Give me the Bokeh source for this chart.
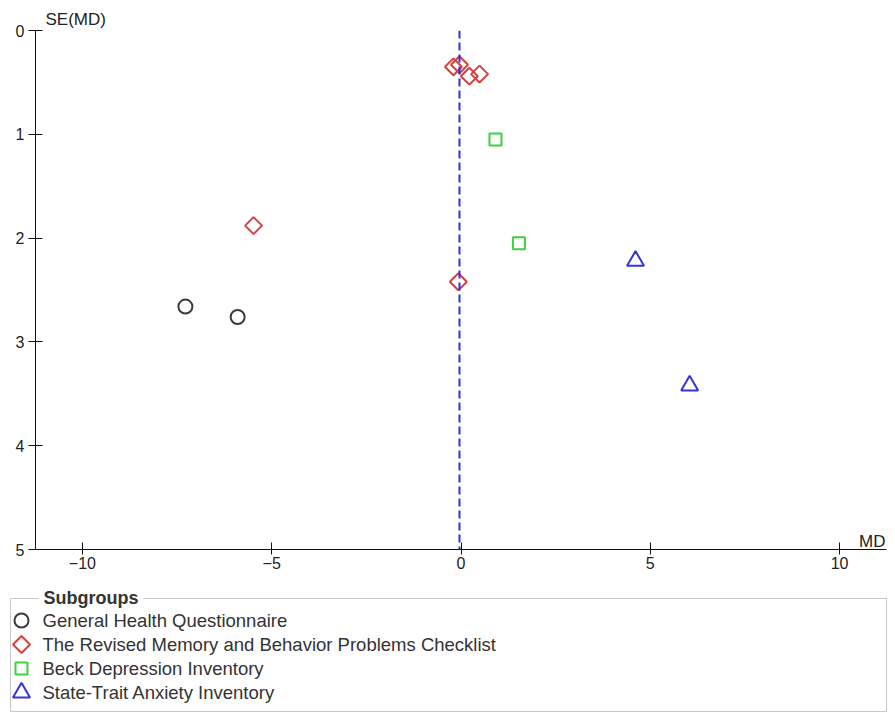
import math
from bokeh.plotting import figure
from bokeh.models import Range1d, SingleIntervalTicker, Span, Label, ColumnDataSource, BoxAnnotation
from bokeh.layouts import column
from bokeh.core.properties import value
from bokeh.embed import file_html
from bokeh.resources import INLINE

# ---- data ----
ghq_md = [-7.28, -5.90]
ghq_se = [2.66, 2.76]
rmbpc_md = [-5.48, -0.07, -0.20, -0.04, 0.22, 0.49]
rmbpc_se = [1.88, 2.42, 0.35, 0.33, 0.44, 0.42]
bdi_md = [0.91, 1.53]
bdi_se = [1.05, 2.05]
stai_md = [4.61, 6.04]
stai_se = [2.22, 3.42]
pooled_md = -0.04

subgroups = ["General Health Questionnaire",
             "The Revised Memory and Behavior Problems Checklist",
             "Beck Depression Inventory",
             "State-Trait Anxiety Inventory"]
x_ticks_interval = 5
y_ticks_interval = 1

# ---- styles ----
FONT = "Liberation Sans"
C_BLACK = "#3a3a3a"
C_RED = "#d4403f"
C_GREEN = "#3dd23d"
C_BLUE = "#3434dc"
markers = ["circle", "square", "square", "triangle"]
angles = [0, math.pi / 4, 0, 0]
colors = [C_BLACK, C_RED, C_GREEN, C_BLUE]
sizes = [14, 12, 12, 17]

p = figure(width=887, height=588, x_range=Range1d(-11.24, 11.24), y_range=Range1d(5, 0),
           output_backend="svg", toolbar_location=None, frame_align=False,
           min_border_left=35, min_border_right=1, min_border_top=30, min_border_bottom=39)
p.outline_line_color = None
p.xgrid.visible = False
p.ygrid.visible = False
p.background_fill_color = "white"
p.border_fill_color = "white"

p.title.text = "SE(MD)"
p.title.align = "left"
p.title.offset = 10
p.title.standoff = 3
p.title.text_font = FONT
p.title.text_font_size = "17px"
p.title.text_font_style = "normal"
p.title.text_color = "#222"

xa = p.xaxis[0]
xa.ticker = SingleIntervalTicker(interval=x_ticks_interval, num_minor_ticks=0)
xa.major_tick_in = 7
xa.major_tick_out = 5
xa.minor_tick_line_color = None
xa.axis_line_color = "#111"
xa.major_tick_line_color = "#111"
xa.major_label_text_font = FONT
xa.major_label_text_font_size = "16px"
xa.major_label_text_color = "#222"
xa.major_label_standoff = 2

ya = p.yaxis[0]
ya.ticker = SingleIntervalTicker(interval=y_ticks_interval, num_minor_ticks=0)
ya.major_tick_in = 7
ya.major_tick_out = 7
ya.minor_tick_line_color = None
ya.axis_line_color = "#111"
ya.major_tick_line_color = "#111"
ya.major_label_text_font = FONT
ya.major_label_text_font_size = "16px"
ya.major_label_text_color = "#222"
ya.major_label_standoff = 4

p.add_layout(Span(location=pooled_md, dimension="height", line_color="#3030e0",
                  line_width=2, line_dash="8 4"))

series = [(ghq_md, ghq_se), (rmbpc_md, rmbpc_se), (bdi_md, bdi_se), (stai_md, stai_se)]
for (xs, ys), mk, ang, col, sz in zip(series, markers, angles, colors, sizes):
    p.scatter(xs, ys, marker=mk, angle=ang, size=sz, fill_color=None,
              line_color=col, line_width=2)

p.add_layout(Label(x=11.24, y=5, x_offset=-1, y_offset=8, text="MD", text_align="right",
                   text_baseline="alphabetic", text_font=FONT, text_font_size="17px",
                   text_color="#222"))

# ---- legend panel (rows 24 px apart: 1 y-unit = 24 px, 1 x-unit = 1 px) ----
idx = list(range(len(subgroups)))
leg = figure(width=887, height=125, x_range=Range1d(-21, 866), y_range=Range1d(3.833, -1.333),
             output_backend="svg", toolbar_location=None, frame_align=False,
             min_border_left=0, min_border_right=0, min_border_top=0, min_border_bottom=1)
leg.axis.visible = False
leg.xgrid.visible = False
leg.ygrid.visible = False
leg.outline_line_color = None
leg.add_layout(BoxAnnotation(left=-11, right=865, top=-0.917, bottom=3.79,
                             fill_alpha=0, line_color="#444", line_width=1))
src = ColumnDataSource(dict(x=[0] * len(idx), y=idx, marker=markers, angle=angles,
                            color=colors, size=sizes, name=subgroups))
leg.scatter("x", "y", marker="marker", angle="angle", size="size", line_color="color",
            fill_color=None, line_width=2, source=src)
leg.text("x", "y", text="name", x_offset=21, text_baseline="middle", source=src,
         text_font=value(FONT), text_font_size="18.5px", text_color="#333")
leg.add_layout(Label(x=0, y=-0.917, x_offset=17, text="Subgroups", text_baseline="middle",
                     text_font=FONT, text_font_size="18px", text_font_style="bold",
                     text_color="#333", background_fill_color="white", padding=5))

layout = column(p, leg, spacing=0)
open("out.html", "w").write(file_html(layout, INLINE))
